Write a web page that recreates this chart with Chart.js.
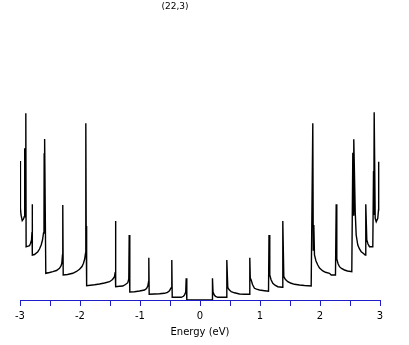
<!DOCTYPE html>
<html>
<head>
<meta charset="utf-8">
<script src="https://cdn.jsdelivr.net/npm/chart.js@4.4.1/dist/chart.umd.min.js"></script>
<style>
  body { margin: 0; background: #fff; }
  canvas { display: block; }
</style>
</head>
<body>
<canvas id="dos" width="409" height="345"></canvas>
<script>
// density of states of the (22,3) tube (arbitrary units)
var chartTitle = '(22,3)';
var axisTitle = 'Energy (eV)';
var tickValues = [-3, -2.5, -2, -1.5, -1, -0.5, 0, 0.5, 1, 1.5, 2, 2.5, 3];
var tickLabels = ['-3', '', '-2', '', '-1', '', '0', '', '1', '', '2', '', '3'];

var energy = [
  -2.997, -2.993, -2.983, -2.963, -2.942, -2.930, -2.923, -2.920, -2.915, -2.903,
  -2.898, -2.875, -2.842, -2.825, -2.808, -2.800, -2.797, -2.792, -2.758, -2.703,
  -2.675, -2.647, -2.625, -2.608, -2.600, -2.597, -2.592, -2.587, -2.570, -2.508,
  -2.453, -2.392, -2.342, -2.317, -2.303, -2.292, -2.287, -2.280, -2.208, -2.120,
  -2.058, -2.008, -1.967, -1.942, -1.922, -1.908, -1.903, -1.897, -1.892, -1.887,
  -1.758, -1.675, -1.592, -1.508, -1.458, -1.425, -1.413, -1.408, -1.403, -1.342,
  -1.287, -1.242, -1.203, -1.187, -1.180, -1.170, -1.092, -1.008, -0.925, -0.892,
  -0.870, -0.858, -0.853, -0.847, -0.758, -0.675, -0.592, -0.542, -0.508, -0.483,
  -0.470, -0.463, -0.392, -0.313, -0.275, -0.258, -0.238, -0.230, -0.220,
  0.203, 0.208, 0.217, 0.238, 0.258, 0.297, 0.358, 0.437, 0.447, 0.463,
  0.483, 0.520, 0.575, 0.658, 0.742, 0.825, 0.830, 0.838, 0.853, 0.875,
  0.908, 0.942, 0.992, 1.075, 1.142, 1.150, 1.163, 1.183, 1.213, 1.250,
  1.297, 1.370, 1.380, 1.397, 1.425, 1.463, 1.508, 1.575, 1.658, 1.742,
  1.853, 1.880, 1.888, 1.897, 1.908, 1.933, 1.963, 1.992, 2.047, 2.092,
  2.158, 2.187, 2.258, 2.270, 2.280, 2.300, 2.325, 2.358, 2.408, 2.458,
  2.530, 2.547, 2.555, 2.563, 2.587, 2.603, 2.630, 2.658, 2.687, 2.725,
  2.753, 2.763, 2.780, 2.800, 2.825, 2.880, 2.892, 2.897, 2.903, 2.920,
  2.937, 2.963, 2.975, 2.978
];
var dos = [
  139, 92, 85, 79.3, 81, 83.3, 90, 151.7, 100, 186.7,
  53.3, 53.7, 54.3, 56.5, 60, 68, 95.7, 45, 45.5, 48.3,
  51, 55, 60, 67, 80, 146.7, 80, 161, 26.7, 27.5,
  28.3, 29.5, 31.7, 34, 36.7, 45, 95, 25, 25.5, 26.7,
  28.5, 30.7, 33.5, 36.7, 41, 46.7, 176.7, 70, 74, 14.3,
  15.2, 16, 17, 18.3, 20.5, 23.3, 28, 79, 13.3, 13.7,
  14, 15.5, 17.3, 21, 65, 8, 8.3, 9, 10, 11.5,
  14, 18, 42.3, 5.7, 6, 6.2, 6.7, 7.7, 9.3, 12,
  40, 2.7, 2.7, 2.7, 3.7, 5, 8, 21.7, 0,
  0, 21.7, 8, 5, 3.7, 2.7, 2.7, 2.7, 40, 12.7,
  10.5, 8.3, 7.2, 6, 5.8, 5.7, 42.3, 22, 20, 15.5,
  11.7, 10.8, 10, 9.3, 8.7, 65, 25, 20.5, 16.7, 14.8,
  13.3, 12.7, 79, 23.3, 20.5, 18.3, 17, 15.7, 15, 14.5,
  14, 176.7, 50, 75, 45, 39, 35, 32, 29, 27.7,
  26.7, 25, 25, 95.7, 41, 36.5, 33.3, 31.5, 30, 29,
  28.3, 147.3, 85, 160.7, 88.3, 65, 55, 51, 48.3, 46.5,
  45, 95.7, 60, 56, 53.3, 53.3, 129, 85, 187.7, 81.7,
  78.3, 81.7, 90, 138.3
];

var points = energy.map(function(e, i) { return { x: e, y: dos[i] }; });

var topTitle = {
  id: 'topTitle',
  afterDraw: function(chart) {
    var ctx = chart.ctx;
    ctx.save();
    ctx.font = '9px "DejaVu Sans"';
    ctx.fillStyle = '#000';
    ctx.textAlign = 'center';
    ctx.textBaseline = 'middle';
    ctx.fillText(chartTitle, 175, 7);
    ctx.restore();
  }
};

var blue = '#1c1cc8';

new Chart(document.getElementById('dos'), {
  type: 'scatter',
  data: {
    datasets: [{
      data: points,
      showLine: true,
      borderColor: '#000',
      borderWidth: 1.4,
      pointRadius: 0,
      tension: 0,
      fill: false
    }]
  },
  options: {
    responsive: false,
    animation: false,
    layout: { padding: { left: 20, right: 29, top: 20, bottom: 0 } },
    plugins: { legend: { display: false }, tooltip: { enabled: false } },
    scales: {
      x: {
        type: 'linear',
        min: -3,
        max: 3,
        afterBuildTicks: function(scale) {
          scale.ticks = tickValues.map(function(v) { return { value: v }; });
        },
        afterFit: function(scale) { scale.height = 45; },
        ticks: {
          autoSkip: false,
          maxRotation: 0,
          padding: 4,
          color: '#000',
          font: { family: 'DejaVu Sans', size: 10 },
          callback: function(v, i) { return tickLabels[i]; }
        },
        grid: {
          drawOnChartArea: false,
          drawTicks: true,
          tickLength: 6,
          color: blue
        },
        border: { display: true, color: blue, width: 1 },
        title: {
          display: true,
          text: axisTitle,
          color: '#000',
          font: { family: 'DejaVu Sans', size: 10 },
          padding: { top: 3, bottom: 7 }
        }
      },
      y: {
        display: false,
        min: 0,
        max: 280
      }
    }
  },
  plugins: [topTitle]
});
</script>
</body>
</html>
